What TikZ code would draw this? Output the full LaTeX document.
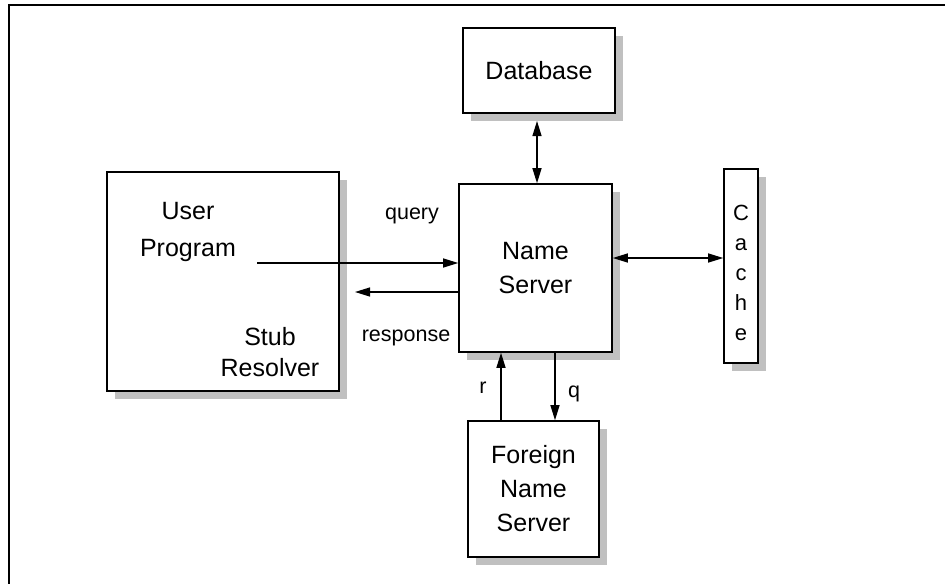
\documentclass[tikz,border=0pt]{standalone}
\usepackage{fontspec}
\setmainfont{Liberation Sans}
\definecolor{litegray}{RGB}{192,192,192}
\usetikzlibrary{arrows.meta, shadows}
\tikzstyle{box}=[rectangle, draw, line width=1.6pt, fill=white, inner sep=0pt, align=center,
    font=\fontsize{25}{34}\selectfont,
    drop shadow={shadow xshift=8pt, shadow yshift=-8pt, fill=litegray, opacity=1}]
\tikzstyle{lbl}=[inner sep=0pt, font=\fontsize{21.5}{25}\selectfont]
\tikzstyle{link}=[line width=1.3pt, -{Triangle[length=15pt, width=9pt]}]
\tikzstyle{dlink}=[line width=1.3pt, {Triangle[length=15pt, width=9pt]}-{Triangle[length=15pt, width=9pt]}]

\begin{document}
\begin{tikzpicture}[x=1pt, y=-1pt]
    \useasboundingbox (0,0) rectangle (945,584);
    \draw[line width=1.6pt] (945,5) -- (9,5) -- (9,584);
    \node[box, minimum width=152pt, minimum height=85pt] (db) at (539,70.5) {Database};
    \node[box, minimum width=153pt, minimum height=168pt] (ns) at (535.5,268) {Name\\Server};
    \node[box, minimum width=34pt, minimum height=194pt] (cache) at (741,266) {};
    \node[box, minimum width=232pt, minimum height=219pt] (user) at (223,281.5) {};
    \node[box, minimum width=131pt, minimum height=136pt] (fns) at (533.5,489) {Foreign\\Name\\Server};
    \node[lbl, align=center, font=\fontsize{25}{37}\selectfont] (userlbl) at (188,232) {User\\Program};
    \node[lbl, align=center, font=\fontsize{25}{31}\selectfont] (stublbl) at (270,352) {Stub\\Resolver};
    \node[lbl, align=center, font=\fontsize{22}{30}\selectfont] (cachelbl) at (741,273) {C\\a\\c\\h\\e};
    \coordinate (qstart) at (257,263);
    \coordinate (rend) at (355,292);
    \coordinate (dbend) at (537,121);
    \coordinate (cy) at (0,258);
    \coordinate (rx) at (501,0);
    \coordinate (qx) at (555,0);
    \draw[link] (qstart) -- (qstart -| ns.west);
    \draw[link] (rend -| ns.west) -- (rend);
    \draw[dlink] (dbend) -- (dbend |- ns.north);
    \draw[dlink] (ns.east |- cy) -- (cache.west |- cy);
    \draw[link] (rx |- fns.north) -- (rx |- ns.south);
    \draw[link] (qx |- ns.south) -- (qx |- fns.north);
    \node[lbl] (querylbl) at (412,216) {query};
    \node[lbl] (resplbl) at (406,338) {response};
    \node[lbl] (rlbl) at (483,388) {r};
    \node[lbl] (qlbl) at (574,394) {q};
\end{tikzpicture}
\end{document}
